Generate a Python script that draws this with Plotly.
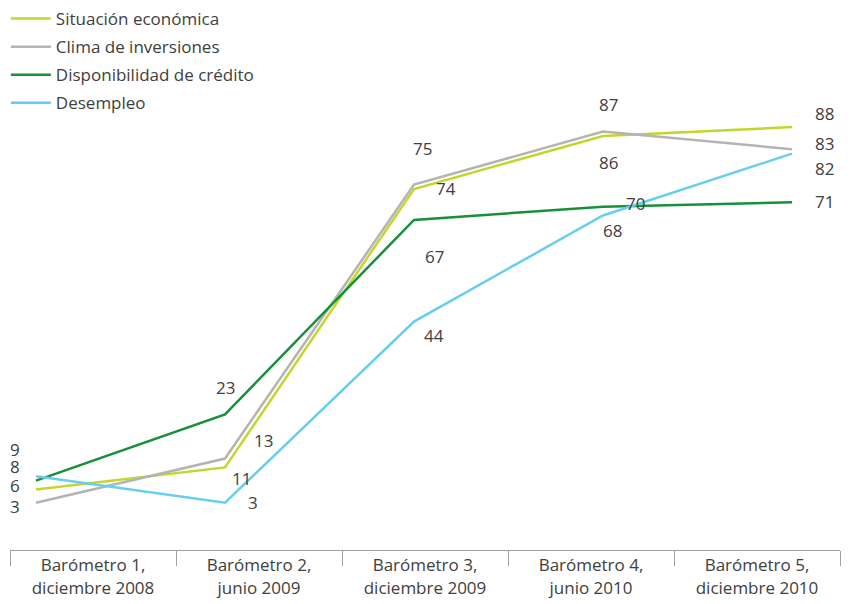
import plotly.graph_objects as go

categories = ["Barómetro 1,<br>diciembre 2008", "Barómetro 2,<br>junio 2009",
              "Barómetro 3,<br>diciembre 2009", "Barómetro 4,<br>junio 2010",
              "Barómetro 5,<br>diciembre 2010"]
situacion = [6, 11, 74, 86, 88]
clima = [3, 13, 75, 87, 83]
credito = [8, 23, 67, 70, 71]
desempleo = [9, 3, 44, 68, 82]

series = [
    ("Situación económica", situacion, "#C5D62A"),
    ("Clima de inversiones", clima, "#B4B4B4"),
    ("Disponibilidad de crédito", credito, "#16903A"),
    ("Desempleo", desempleo, "#66CEF0"),
]

# label offsets (px) per series per point
offsets = {
    "Situación económica": [(-21, 4), (16, -11), (32, 0), (5, -27), (33, 14)],
    "Clima de inversiones": [(-21, -4), (38, 18), (8, 36), (5, 27), (33, 6)],
    "Disponibilidad de crédito": [(-21, 14), (0, 27), (20, -37), (32, 3), (33, 1)],
    "Desempleo": [(-21, 27), (28, 0), (20, -14), (9, -15), (33, -15)],
}

fig = go.Figure()
# invisible trace for the category axis
fig.add_trace(go.Scatter(x=categories, y=[None] * 5, xaxis="x", yaxis="y",
                         showlegend=False, hoverinfo="skip", mode="lines"))

annotations = []
for i, (name, vals, color) in enumerate(series):
    fig.add_trace(go.Scatter(x=list(range(len(categories))), y=vals, name=name,
                             mode="lines", line=dict(color=color, width=2.5),
                             xaxis="x2", yaxis="y", legendgroup=name))
    for j, v in enumerate(vals):
        dx, dy = offsets[name][j]
        annotations.append(dict(x=j, y=v, xref="x2", yref="y", text=str(v),
                                showarrow=False, xshift=dx, yshift=dy,
                                font=dict(size=17, color="#404040")))

fig.update_layout(
    width=857, height=604,
    margin=dict(l=2, r=25, t=82, b=62, autoexpand=False),
    paper_bgcolor="white", plot_bgcolor="white",
    font=dict(family="Open Sans, Noto Sans, sans-serif", color="#404040"),
    xaxis=dict(type="category", range=[-0.5, 4.5], tickson="boundaries",
               ticks="outside", ticklen=15, tickcolor="#A0A0A0", tickwidth=1,
               showline=True, linecolor="#A0A0A0", linewidth=1,
               showgrid=False, zeroline=False, automargin=False,
               tickfont=dict(size=17, color="#404040")),
    xaxis2=dict(overlaying="x", range=[-0.1376, 4.254], visible=False),
    yaxis=dict(range=[-7.7, 96.4], visible=False, showgrid=False, zeroline=False),
    legend=dict(x=-0.005, y=1.1935, xanchor="left", yanchor="top",
                font=dict(size=17, color="#404040"), tracegroupgap=3,
                itemwidth=40, bgcolor="rgba(0,0,0,0)"),
    annotations=annotations,
    showlegend=True,
)

fig.write_html("out.html")
